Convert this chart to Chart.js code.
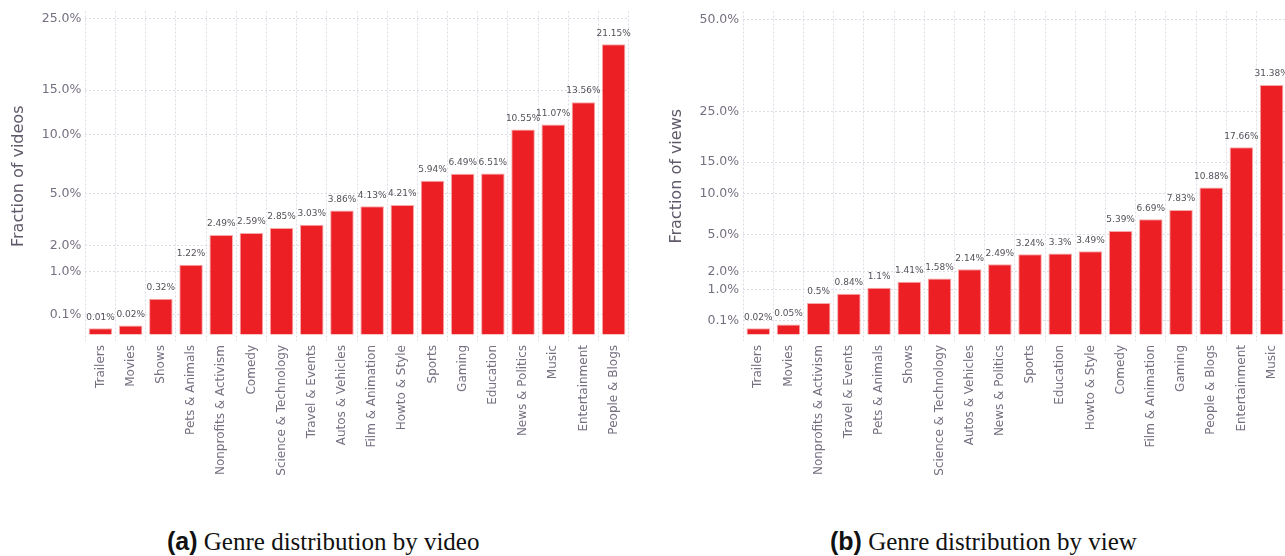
<!DOCTYPE html>
<html>
<head>
<meta charset="utf-8">
<script src="https://cdn.jsdelivr.net/npm/chart.js@4/dist/chart.umd.min.js"></script>
<style>
  html, body { margin: 0; padding: 0; width: 1285px; height: 556px; overflow: hidden; background: #fff; }
  canvas { position: absolute; top: 0; }
  #c1 { left: 0; }
  #c2 { left: 655px; }
  .cap { position: absolute; top: 527px; font-family: "Liberation Serif", serif; font-size: 25px; color: #111; white-space: nowrap; }
  .cap b { font-family: "Liberation Sans", Arial, sans-serif; font-weight: bold; }
</style>
</head>
<body>
<canvas id="c1" width="632" height="500"></canvas>
<canvas id="c2" width="635" height="500"></canvas>
<div class="cap" id="capA" style="left:167px"><b>(a)</b> Genre distribution by video</div>
<div class="cap" id="capB" style="left:830px"><b>(b)</b> Genre distribution by view</div>
<script>
// ---- data ----
const videoCategories = ["Trailers", "Movies", "Shows", "Pets & Animals", "Nonprofits & Activism", "Comedy",
  "Science & Technology", "Travel & Events", "Autos & Vehicles", "Film & Animation", "Howto & Style", "Sports",
  "Gaming", "Education", "News & Politics", "Music", "Entertainment", "People & Blogs"];
const videoShares = [0.01, 0.02, 0.32, 1.22, 2.49, 2.59, 2.85, 3.03, 3.86, 4.13, 4.21, 5.94, 6.49, 6.51, 10.55, 11.07, 13.56, 21.15];

const viewCategories = ["Trailers", "Movies", "Nonprofits & Activism", "Travel & Events", "Pets & Animals", "Shows",
  "Science & Technology", "Autos & Vehicles", "News & Politics", "Sports", "Education", "Howto & Style", "Comedy",
  "Film & Animation", "Gaming", "People & Blogs", "Entertainment", "Music"];
const viewShares = [0.02, 0.05, 0.5, 0.84, 1.1, 1.41, 1.58, 2.14, 2.49, 3.24, 3.3, 3.49, 5.39, 6.69, 7.83, 10.88, 17.66, 31.38];

const videoTicks = [0.1, 1, 2, 5, 10, 15, 25];
const viewTicks = [0.1, 1, 2, 5, 10, 15, 25, 50];

// ---- square-root scale ----
const tf = v => Math.sign(v) * Math.sqrt(Math.abs(v));
class SqrtScale extends Chart.LinearScale {
  getPixelForValue(value) {
    if (value === null || value === undefined) return NaN;
    const a = tf(this.min), b = tf(this.max);
    return this.getPixelForDecimal((tf(value) - a) / (b - a));
  }
  getValueForPixel(pixel) {
    const a = tf(this.min), b = tf(this.max);
    const t = a + this.getDecimalForPixel(pixel) * (b - a);
    return Math.sign(t) * t * t;
  }
}
SqrtScale.id = 'sqrt';
SqrtScale.defaults = Chart.LinearScale.defaults;
Chart.register(SqrtScale);

const TICK_COLOR = '#766f80';
const GRID_COLOR = '#dcdbe6';

const valueLabels = {
  id: 'valueLabels',
  afterDatasetsDraw(chart) {
    const ctx = chart.ctx;
    const meta = chart.getDatasetMeta(0);
    const data = chart.data.datasets[0].data;
    ctx.save();
    ctx.font = '9px "DejaVu Sans"';
    ctx.fillStyle = '#555059';
    ctx.textAlign = 'center';
    ctx.textBaseline = 'middle';
    meta.data.forEach((bar, i) => {
      ctx.fillText(String(data[i]) + '%', bar.x, bar.y - 11);
    });
    ctx.restore();
  }
};

function makeChart(id, labels, values, ticks, yMin, yMax, title, axisWidth, titlePad) {
  return new Chart(document.getElementById(id), {
    type: 'bar',
    data: {
      labels: labels,
      datasets: [{
        data: values,
        backgroundColor: '#ec1f25',
        borderColor: '#f7a9a9',
        borderWidth: 1,
        categoryPercentage: 1,
        barPercentage: 0.78
      }]
    },
    options: {
      responsive: false,
      animation: false,
      devicePixelRatio: 1,
      layout: { padding: { top: 11, right: 0, left: 0, bottom: 0 } },
      plugins: { legend: { display: false }, tooltip: { enabled: false } },
      scales: {
        x: {
          grid: { color: GRID_COLOR, lineWidth: 1, drawTicks: false, offset: true },
          border: { display: false, dash: [2, 2] },
          ticks: {
            autoSkip: false, minRotation: 90, maxRotation: 90, padding: 4,
            color: TICK_COLOR, font: { family: 'DejaVu Sans', size: 12 }
          },
          afterFit: s => { s.height = 159; }
        },
        y: {
          type: 'sqrt',
          min: yMin, max: yMax,
          grid: { color: GRID_COLOR, lineWidth: 1, drawTicks: false },
          border: { display: false, dash: [2, 2] },
          ticks: {
            padding: 4, color: TICK_COLOR, font: { family: 'DejaVu Sans', size: 12.5 },
            callback: v => v.toFixed(1) + '%'
          },
          afterBuildTicks: s => { s.ticks = ticks.map(v => ({ value: v })); },
          title: {
            display: true, text: title, color: '#5f5969',
            font: { family: 'DejaVu Sans', size: 16 }, padding: { top: titlePad, bottom: 0 }
          },
          afterFit: s => { s.width = axisWidth; }
        }
      }
    },
    plugins: [valueLabels]
  });
}

makeChart('c1', videoCategories, videoShares, videoTicks, -0.01057, 26.2, 'Fraction of videos', 85.4, 9);
makeChart('c2', viewCategories, viewShares, viewTicks, -0.02124, 52.61, 'Fraction of views', 88.2, 12);
</script>
</body>
</html>
